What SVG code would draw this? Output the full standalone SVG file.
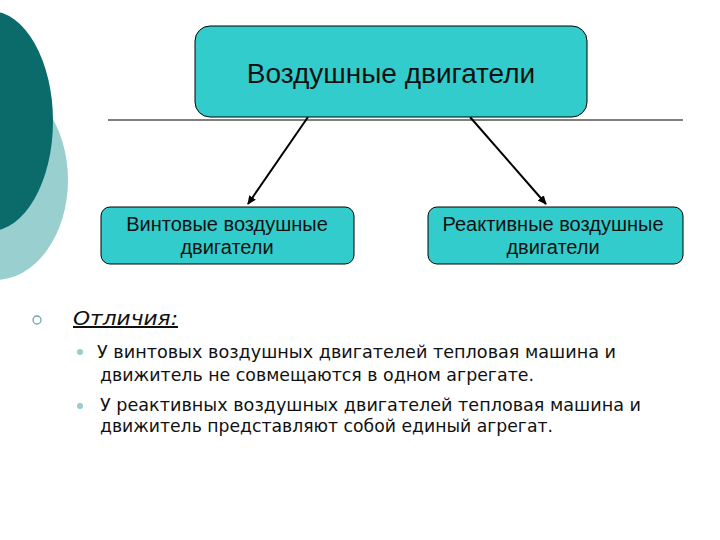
<svg xmlns="http://www.w3.org/2000/svg" width="720" height="540" viewBox="0 0 720 540">
<style>
.box{fill:#33CCCC;stroke:#000;stroke-width:1}
.bt{font-family:"Liberation Sans",Arial,sans-serif;fill:#111;text-anchor:middle}
.bx{font-family:"DejaVu Sans","Verdana",sans-serif;fill:#111;font-size:17px}
.conn{stroke:#000;stroke-width:2;fill:none}
</style>
<defs>
<marker id="ah" markerWidth="10" markerHeight="10" refX="8" refY="5" orient="auto" markerUnits="userSpaceOnUse">
<path d="M0,1 L9,5 L0,9 Z" fill="#000"/>
</marker>
</defs>
<rect width="720" height="540" fill="#fff"/>
<g id="decor">
<ellipse cx="-5" cy="180" rx="73" ry="100" fill="#9ACFCF"/>
<ellipse cx="-10" cy="121" rx="63" ry="110" fill="#0A6B6A"/>
</g>
<line x1="108" y1="120" x2="683" y2="120" stroke="#000" stroke-width="1.2"/>
<g id="connectors">
<line class="conn" x1="308" y1="117" x2="248" y2="204" marker-end="url(#ah)"/>
<line class="conn" x1="470" y1="117" x2="546" y2="204" marker-end="url(#ah)"/>
</g>
<g id="root">
<rect class="box" x="195" y="26" width="392" height="91" rx="15"/>
<text class="bt" x="391" y="83" font-size="28">Воздушные двигатели</text>
</g>
<g id="propeller">
<rect class="box" x="101" y="207" width="253" height="57" rx="9"/>
<text class="bt" x="227" y="231" font-size="20">Винтовые воздушные</text>
<text class="bt" x="227" y="254" font-size="20">двигатели</text>
</g>
<g id="jet">
<rect class="box" x="428" y="207" width="255" height="57" rx="9"/>
<text class="bt" x="553" y="231" font-size="20">Реактивные воздушные</text>
<text class="bt" x="553" y="254" font-size="20">двигатели</text>
</g>
<g id="list">
<circle cx="37" cy="320" r="4" fill="none" stroke="#6FA8A8" stroke-width="1.3"/>
<text x="73" y="325" font-family="DejaVu Sans,Verdana,sans-serif" font-size="20" font-style="italic" text-decoration="underline" fill="#111" textLength="105" lengthAdjust="spacingAndGlyphs">Отличия:</text>
<circle cx="80" cy="352" r="3" fill="#99CCCC"/>
<circle cx="80" cy="406" r="3" fill="#99CCCC"/>
<text class="bx" x="97" y="358" textLength="519" lengthAdjust="spacingAndGlyphs">У винтовых воздушных двигателей тепловая машина и</text>
<text class="bx" x="100" y="381" textLength="434" lengthAdjust="spacingAndGlyphs">движитель не совмещаются в одном агрегате.</text>
<text class="bx" x="100" y="411" textLength="541" lengthAdjust="spacingAndGlyphs">У реактивных воздушных двигателей тепловая машина и</text>
<text class="bx" x="100" y="432" textLength="453" lengthAdjust="spacingAndGlyphs">движитель представляют собой единый агрегат.</text>
</g>
</svg>
